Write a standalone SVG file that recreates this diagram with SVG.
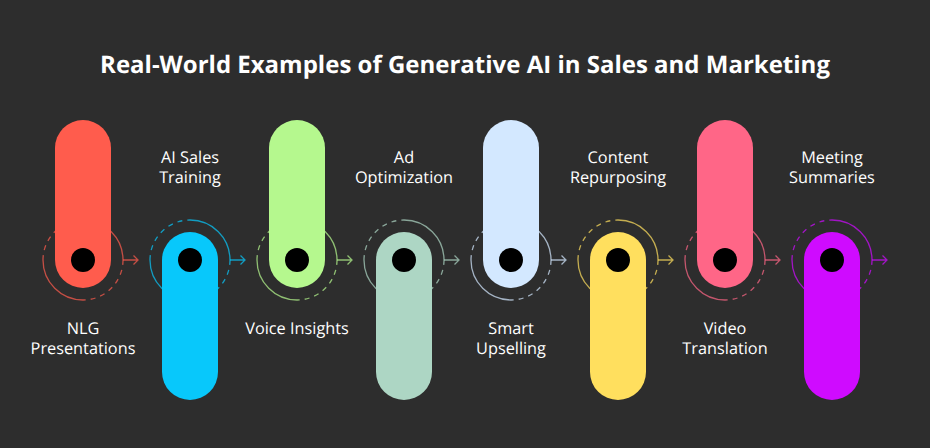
<svg xmlns="http://www.w3.org/2000/svg" width="930" height="448" viewBox="0 0 930 448">
<style>
text{font-family:"Open Sans","Noto Sans",sans-serif;fill:#fff;font-size:16.3px;text-anchor:middle;text-rendering:geometricPrecision}
.t{font-size:24px;font-weight:700}
.dot{fill:#000}
.ring{fill:none;stroke:currentColor;stroke-width:1.3;opacity:.72}
.d{stroke-dasharray:5 5}
.ar{fill:none;stroke:currentColor;stroke-width:1.3;opacity:.72}
</style>
<defs>
<g id="conn">
<path class="ring" d="M0-40A40 40 0 0 1 40 0"/>
<path class="ring" d="M-40 0A40 40 0 0 0 0 40"/>
<path class="ring d" d="M-40 0A40 40 0 0 1 0-40"/>
<path class="ring d" d="M40 0A40 40 0 0 1 0 40"/>
<path class="ar" d="M40 0H55M50.500-4.500L55 0L50.500 4.500"/>
</g>
</defs>
<rect width="930" height="448" fill="#2d2d2d"/>
<text class="t" x="465" y="73">Real-World Examples of Generative AI in Sales and Marketing</text>
<g id="connectors">
<use href="#conn" x="83" y="260" color="#ff5c4d"/>
<use href="#conn" x="190" y="260" color="#08c8fb"/>
<use href="#conn" x="297" y="260" color="#b5f88e"/>
<use href="#conn" x="404" y="260" color="#add6c4"/>
<use href="#conn" x="511" y="260" color="#d3e8ff"/>
<use href="#conn" x="618" y="260" color="#ffdf5e"/>
<use href="#conn" x="725" y="260" color="#ff6687"/>
<use href="#conn" x="832" y="260" color="#cf0bff"/>
</g>
<g id="n1"><rect x="55" y="120" width="56" height="168" rx="28" fill="#ff5c4d"/><circle class="dot" cx="83" cy="260" r="12"/><text x="83" y="334">NLG</text><text x="83" y="354">Presentations</text></g>
<g id="n2"><rect x="162" y="232" width="56" height="168" rx="28" fill="#08c8fb"/><circle class="dot" cx="190" cy="260" r="12"/><text x="190" y="163">AI Sales</text><text x="190" y="183">Training</text></g>
<g id="n3"><rect x="269" y="120" width="56" height="168" rx="28" fill="#b5f88e"/><circle class="dot" cx="297" cy="260" r="12"/><text x="297" y="334">Voice Insights</text></g>
<g id="n4"><rect x="376" y="232" width="56" height="168" rx="28" fill="#add6c4"/><circle class="dot" cx="404" cy="260" r="12"/><text x="404" y="163">Ad</text><text x="404" y="183">Optimization</text></g>
<g id="n5"><rect x="483" y="120" width="56" height="168" rx="28" fill="#d3e8ff"/><circle class="dot" cx="511" cy="260" r="12"/><text x="511" y="334">Smart</text><text x="511" y="354">Upselling</text></g>
<g id="n6"><rect x="590" y="232" width="56" height="168" rx="28" fill="#ffdf5e"/><circle class="dot" cx="618" cy="260" r="12"/><text x="618" y="163">Content</text><text x="618" y="183">Repurposing</text></g>
<g id="n7"><rect x="697" y="120" width="56" height="168" rx="28" fill="#ff6687"/><circle class="dot" cx="725" cy="260" r="12"/><text x="725" y="334">Video</text><text x="725" y="354">Translation</text></g>
<g id="n8"><rect x="804" y="232" width="56" height="168" rx="28" fill="#cf0bff"/><circle class="dot" cx="832" cy="260" r="12"/><text x="832" y="163">Meeting</text><text x="832" y="183">Summaries</text></g>
</svg>
